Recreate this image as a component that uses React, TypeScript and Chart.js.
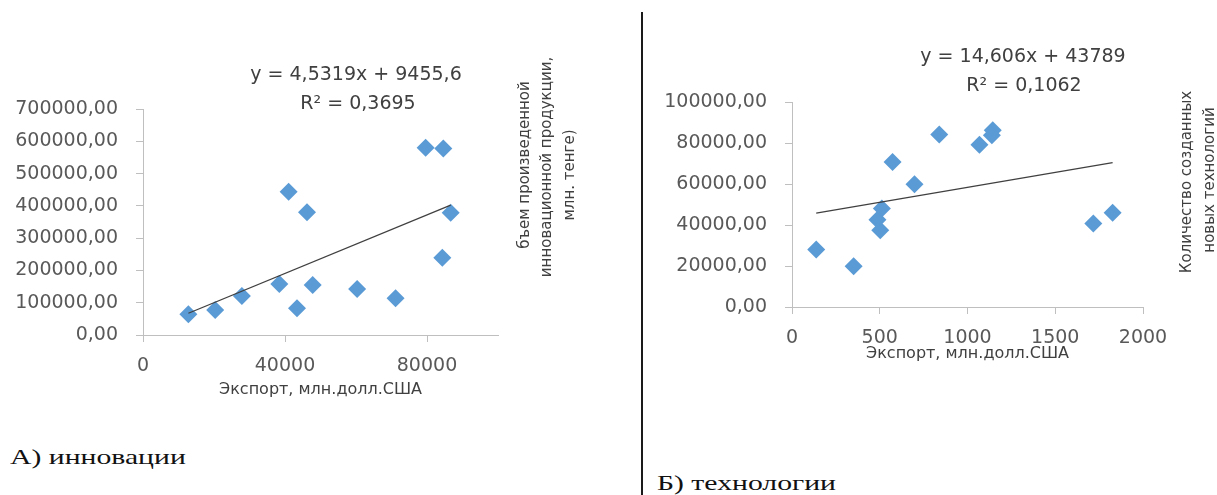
import React, { useEffect, useRef } from 'react';
import { Chart, registerables } from 'chart.js';

Chart.register(...registerables);

// ---- Data: A) innovations ----
const innovExport = [12790, 20330, 27860, 38400, 41020, 43380, 46200, 47800, 60320, 71140, 79610, 84600, 86670, 84320];
const innovOutput = [64000, 77400, 120700, 157900, 443700, 82600, 379900, 154800, 142400, 113500, 579900, 578000, 378700, 239300];
const innovTrend = [4.5319, 9455.6];
const innovEquation = ['y = 4,5319x + 9455,6', 'R² = 0,3695'];
const innovXTicks = [0, 40000, 80000];
const innovYTicks = [0, 100000, 200000, 300000, 400000, 500000, 600000, 700000];
const innovXTitle = 'Экспорт, млн.долл.США';
const innovYTitle = ['бъем произведенной', 'инновационной продукции,', 'млн. тенге)'];
const innovCaption = 'А) инновации';

// ---- Data: Б) technologies ----
const techExport = [138, 351, 487, 512, 503, 573, 698, 839, 1068, 1144, 1139, 1717, 1827];
const techCount = [28000, 19850, 42600, 48000, 37400, 70700, 59900, 84200, 79200, 86200, 83800, 40700, 46000];
const techTrend = [14.606, 43789];
const techEquation = ['y = 14,606x + 43789', 'R² = 0,1062'];
const techXTicks = [0, 500, 1000, 1500, 2000];
const techYTicks = [0, 20000, 40000, 60000, 80000, 100000];
const techXTitle = 'Экспорт, млн.долл.США';
const techYTitle = ['Количество созданных', 'новых технологий'];
const techCaption = 'Б) технологии';

const SANS = '"DejaVu Sans", sans-serif';
const AXIS_COLOR = '#bfbfbf';
const LABEL_COLOR = '#595959';
const TEXT_COLOR = '#404040';
const MARKER = '#5B9BD5';

function textPlugin(eq: string[], eqPos: number[][], title: string[], titlePos: number[][]) {
  return {
    id: 'annotations',
    afterDraw(chart: any) {
      const ctx = chart.ctx;
      ctx.save();
      ctx.fillStyle = TEXT_COLOR;
      ctx.textAlign = 'center';
      ctx.textBaseline = 'middle';
      ctx.font = '19px ' + SANS;
      eq.forEach((t, i) => ctx.fillText(t, eqPos[i][0], eqPos[i][1]));
      ctx.font = '15px ' + SANS;
      title.forEach((t, i) => {
        ctx.save();
        ctx.translate(titlePos[i][0], titlePos[i][1]);
        ctx.rotate(-Math.PI / 2);
        ctx.fillText(t, 0, 0);
        ctx.restore();
      });
      ctx.restore();
    },
  };
}

function buildConfig(p: any) {
  const points = p.xs.map((x: number, i: number) => ({ x, y: p.ys[i] }));
  const xMin = Math.min(...p.xs);
  const xMax = Math.max(...p.xs);
  const trend = [xMin, xMax].map((x) => ({ x, y: p.trend[0] * x + p.trend[1] }));
  const grid = { display: true, drawOnChartArea: false, drawTicks: true, tickLength: 7, color: AXIS_COLOR, lineWidth: 1 };
  const border = { display: true, color: AXIS_COLOR, width: 1 };
  return {
    type: 'scatter',
    data: {
      datasets: [
        { type: 'line', data: trend, borderColor: '#404040', borderWidth: 1.3, pointRadius: 0, fill: false },
        {
          data: points,
          pointStyle: 'rectRot',
          pointRadius: 9,
          pointHoverRadius: 9,
          backgroundColor: MARKER,
          borderColor: MARKER,
          borderWidth: 0,
        },
      ],
    },
    options: {
      responsive: false,
      animation: false,
      layout: { padding: p.padding },
      plugins: { legend: { display: false }, tooltip: { enabled: false } },
      scales: {
        x: {
          type: 'linear',
          min: 0,
          max: p.xMax,
          afterBuildTicks: (s: any) => { s.ticks = p.xTicks.map((v: number) => ({ value: v })); },
          afterFit: (s: any) => { s.height = p.xAxisHeight; },
          ticks: {
            callback: (v: any) => String(v),
            color: LABEL_COLOR,
            font: { family: SANS, size: 19 },
            padding: 13,
            maxRotation: 0,
            autoSkip: false,
          },
          grid,
          border,
          title: {
            display: true,
            text: p.xTitle,
            color: TEXT_COLOR,
            font: { family: SANS, size: 16 },
            padding: { top: 0, bottom: p.xTitlePad },
          },
        },
        y: {
          type: 'linear',
          min: 0,
          max: p.yMax,
          afterBuildTicks: (s: any) => { s.ticks = p.yTicks.map((v: number) => ({ value: v })); },
          afterFit: (s: any) => { s.width = p.yAxisWidth; },
          ticks: {
            callback: (v: any) => Number(v).toFixed(2).replace('.', ','),
            color: LABEL_COLOR,
            font: { family: SANS, size: 19 },
            padding: 18,
            autoSkip: false,
          },
          grid,
          border,
        },
      },
    },
    plugins: [textPlugin(p.eq, p.eqPos, p.yTitle, p.yTitlePos)],
  };
}

function Panel({ cfg, left, top, width, height }: any) {
  const ref = useRef<HTMLCanvasElement | null>(null);
  useEffect(() => {
    const chart = new Chart(ref.current as HTMLCanvasElement, buildConfig(cfg) as any);
    return () => chart.destroy();
  }, []);
  return (
    <canvas
      ref={ref}
      width={width}
      height={height}
      style={{ position: 'absolute', left, top, width, height }}
    />
  );
}

const innovPanel = {
  xs: innovExport, ys: innovOutput, trend: innovTrend,
  xMax: 100000, yMax: 700000, xTicks: innovXTicks, yTicks: innovYTicks,
  xTitle: innovXTitle, xTitlePad: 21, xAxisHeight: 85, yAxisWidth: 143,
  padding: { top: 109, right: 132, bottom: 0, left: 0 },
  eq: innovEquation, eqPos: [[356, 75], [358, 104]],
  yTitle: innovYTitle, yTitlePos: [[525, 165], [547, 167], [570, 175]],
};

const techPanel = {
  xs: techExport, ys: techCount, trend: techTrend,
  xMax: 2000, yMax: 100000, xTicks: techXTicks, yTicks: techYTicks,
  xTitle: techXTitle, xTitlePad: 57, xAxisHeight: 113, yAxisWidth: 147,
  padding: { top: 102, right: 74, bottom: 0, left: 0 },
  eq: techEquation, eqPos: [[378, 57], [379, 86]],
  yTitle: techYTitle, yTitlePos: [[542, 182], [565, 180]],
};

const captionStyle: React.CSSProperties = {
  position: 'absolute',
  fontFamily: '"Liberation Serif", serif',
  fontSize: 22,
  lineHeight: '22px',
  color: '#111',
  whiteSpace: 'nowrap',
  transform: 'scaleX(1.35)',
  transformOrigin: 'left center',
};

export default function App() {
  return (
    <div style={{ position: 'fixed', left: 0, top: 0, width: 1217, height: 495, background: '#fff', overflow: 'hidden' }}>
      <Panel cfg={innovPanel} left={0} top={0} width={630} height={420} />
      <Panel cfg={techPanel} left={645} top={0} width={572} height={420} />
      <div style={{ position: 'absolute', left: 641, top: 12, width: 2, height: 483, background: '#1a1a1a' }} />
      <div style={{ ...captionStyle, left: 10, top: 446 }}>{innovCaption}</div>
      <div style={{ ...captionStyle, left: 657, top: 472 }}>{techCaption}</div>
    </div>
  );
}
